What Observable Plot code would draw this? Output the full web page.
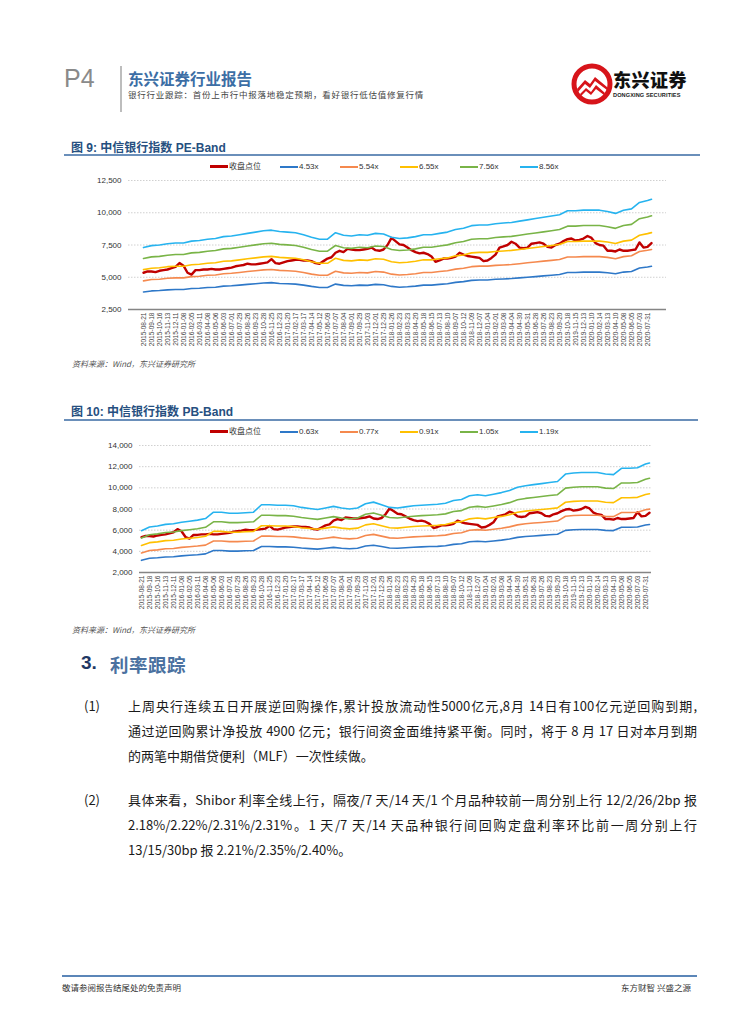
<!DOCTYPE html>
<html><head><meta charset="utf-8">
<script src="https://cdn.jsdelivr.net/npm/d3@7"></script>
<script src="https://cdn.jsdelivr.net/npm/@observablehq/plot@0.6"></script>
<style>
html,body{margin:0;padding:0;background:#fff}
body{width:755px;height:1024px;position:relative;overflow:hidden;font-family:"Noto Sans CJK SC","Noto Sans",sans-serif;color:#1a1a1a}
.a{position:absolute;white-space:nowrap}
.ctitle{font-size:12px;font-weight:bold;color:#264f80;font-family:"Liberation Sans","Noto Sans CJK SC",sans-serif}
.ctitle span{font-family:"Noto Sans CJK SC",sans-serif}
.rule{position:absolute;height:2px;background:#6a8fba}
.src{font-size:8px;font-style:italic;color:#555}
.leg{position:absolute;font-size:8px;color:#333;font-family:"Liberation Sans","Noto Sans CJK SC",sans-serif;height:10px;line-height:10px;white-space:nowrap}
.leg i{display:inline-block;width:18px;vertical-align:middle;margin-right:1px}
.para{position:absolute;left:128px;width:569px;font-size:13px;line-height:18px;color:#1a1a1a}
.para div{height:25px;text-align:justify;text-align-last:justify;white-space:nowrap}
.para div.last{text-align-last:left}
.num{position:absolute;left:84px;font-size:13px;line-height:18px}
</style></head><body>

<!-- header -->
<div class="a" style="left:64px;top:64px;font-size:25px;color:#8a8a8a;font-family:'Liberation Sans',sans-serif">P4</div>
<div class="a" style="left:120px;top:66px;width:2px;height:46px;background:#bdbdbd"></div>
<div class="a" style="left:128px;top:67px;font-size:15.5px;font-weight:bold;color:#3c6ea5">东兴证券行业报告</div>
<div class="a" style="left:128px;top:88px;font-size:8.5px;letter-spacing:0.75px;color:#444">银行行业跟踪：首份上市行中报落地稳定预期，看好银行低估值修复行情</div>
<svg class="a" style="left:571px;top:63px" width="42" height="42" viewBox="0 0 42 42">
  <circle cx="21" cy="21" r="18" fill="none" stroke="#d7141a" stroke-width="5"/>
  <path d="M6 26 L14 17 L19 21 L24 14 L36 24 L36 27 L24 18 L19 25 L14 21 L7 29 Z" fill="#d7141a"/>
  <path d="M9 31 L15 25 L20 29 L25 22 L34 30 L33 32 L25 26 L20 32 L15 28 L10 33 Z" fill="#d7141a"/>
</svg>
<div class="a" style="left:613px;top:66px;font-size:18px;font-weight:900;color:#111;letter-spacing:0.5px">东兴证券</div>
<div class="a" style="left:613px;top:92px;font-size:5.6px;font-weight:bold;color:#222;font-family:'Liberation Sans',sans-serif;letter-spacing:0.1px">DONGXING SECURITIES</div>

<!-- chart 1 -->
<div class="a ctitle" style="left:71px;top:138px"><span>图</span> 9: <span>中信银行指数</span> PE-Band</div>
<div class="rule" style="left:64px;top:154px;width:636px"></div>
<div id="leg1"></div>
<div id="chart1"></div>
<div class="a src" style="left:72px;top:358px">资料来源：Wind，东兴证券研究所</div>

<!-- chart 2 -->
<div class="a ctitle" style="left:71px;top:402px"><span>图</span> 10: <span>中信银行指数</span> PB-Band</div>
<div class="rule" style="left:64px;top:419px;width:634px"></div>
<div id="leg2"></div>
<div id="chart2"></div>
<div class="a src" style="left:72px;top:624px">资料来源：Wind，东兴证券研究所</div>

<!-- section -->
<div class="a" style="left:81px;top:652px;font-size:19px;font-weight:bold;color:#1f3864;font-family:'Liberation Sans',sans-serif">3.</div>
<div class="a" style="left:110px;top:651px;font-size:18.5px;font-weight:bold;color:#4a71a0;letter-spacing:0.5px">利率跟踪</div>

<div class="num" style="top:697px">(1)</div>
<div class="para" style="top:697px">
<div>上周央行连续五日开展逆回购操作,累计投放流动性5000亿元,8月 14日有100亿元逆回购到期,</div>
<div>通过逆回购累计净投放 4900 亿元；银行间资金面维持紧平衡。同时，将于 8 月 17 日对本月到期</div>
<div class="last">的两笔中期借贷便利（MLF）一次性续做。</div>
</div>
<div class="num" style="top:791px">(2)</div>
<div class="para" style="top:791px">
<div>具体来看，Shibor 利率全线上行，隔夜/7 天/14 天/1 个月品种较前一周分别上行 12/2/26/2bp 报</div>
<div>2.18%/2.22%/2.31%/2.31%。1 天/7 天/14 天品种银行间回购定盘利率环比前一周分别上行</div>
<div class="last">13/15/30bp 报 2.21%/2.35%/2.40%。</div>
</div>

<!-- footer -->
<div class="a" style="left:62px;top:975px;width:635px;height:2px;background:#5b86b8"></div>
<div class="a" style="left:62px;top:981px;font-size:8.5px;color:#333">敬请参阅报告结尾处的免责声明</div>
<div class="a" style="left:621px;top:981px;font-size:8.5px;color:#333">东方财智 兴盛之源</div>

<script>
// ---------- data ----------
const tickDates = ["2015-08-21","2015-09-18","2015-10-16","2015-11-13","2015-12-11",
"2016-01-08","2016-02-05","2016-03-11","2016-04-08","2016-05-06","2016-06-03","2016-07-01","2016-07-29","2016-08-26","2016-09-23","2016-10-28","2016-11-25","2016-12-23",
"2017-01-20","2017-02-17","2017-03-17","2017-04-14","2017-05-12","2017-06-09","2017-07-07","2017-08-04","2017-09-01","2017-09-29","2017-11-03","2017-12-01","2017-12-29",
"2018-01-26","2018-02-23","2018-03-23","2018-04-20","2018-05-18","2018-06-15","2018-07-13","2018-08-10","2018-09-07","2018-10-12","2018-11-09","2018-12-07",
"2019-01-04","2019-02-01","2019-03-08","2019-04-04","2019-04-30","2019-05-31","2019-06-28","2019-07-26","2019-08-23","2019-09-20","2019-10-18","2019-11-15","2019-12-13",
"2020-01-10","2020-02-14","2020-03-13","2020-04-10","2020-05-08","2020-06-05","2020-07-03","2020-07-31"];
const lastDate = "2020-08-14";

// close level of the index, every two weeks (tick date, then two weeks later)
const closeIndex = [5350,5450,5450,5400,5500,5550,5600,5700,5800,6100,
5900,5350,5200,5550,5550,5600,5600,5650,5600,5600,
5650,5700,5750,5850,5900,5950,6050,6000,6000,6050,
6100,6150,6400,6100,6050,6150,6250,6300,6350,6350,
6300,6300,6250,6100,6050,6250,6450,6550,6900,7050,
6950,7200,7150,7100,7100,7150,7200,7300,7100,7050,
7150,7500,8050,7800,7550,7500,7300,7100,6950,6850,
6900,6800,6600,6200,6300,6450,6450,6500,6600,6900,
6750,6650,6600,6550,6500,6250,6300,6500,6750,7300,
7400,7500,7750,7600,7300,7250,7300,7600,7650,7700,
7600,7350,7300,7500,7600,7800,7950,8000,7850,7900,
8000,8200,8050,7650,7500,7450,7050,7050,7000,7150,
7050,7050,7100,7150,7700,7300,7350,7650];

// PE bands (values at tick dates + last date)
const pe453 = [3860,3940,3970,4020,4050,4050,4130,4150,4210,4230,4310,4340,4390,4450,4500,4550,4580,4520,4500,4470,4390,4290,4210,4210,4470,4370,4340,4390,4370,4450,4420,4290,4230,4260,4310,4390,4390,4450,4500,4600,4660,4760,4790,4790,4840,4870,4900,4950,5000,5050,5110,5160,5210,5370,5370,5400,5400,5400,5350,5270,5400,5450,5720,5800,5850];
const pe554 = [4720,4820,4850,4920,4950,4950,5050,5080,5150,5180,5270,5310,5370,5440,5500,5570,5600,5530,5500,5470,5370,5240,5150,5150,5470,5340,5310,5370,5340,5440,5400,5240,5180,5210,5270,5370,5370,5440,5500,5630,5700,5820,5860,5860,5920,5950,5990,6050,6120,6180,6250,6310,6370,6570,6570,6600,6600,6600,6540,6440,6600,6670,6990,7090,7150];
const pe655 = [5590,5700,5740,5820,5850,5850,5970,6010,6080,6120,6240,6270,6350,6430,6500,6580,6620,6540,6500,6470,6350,6200,6080,6080,6470,6310,6270,6350,6310,6430,6390,6200,6120,6160,6240,6350,6350,6430,6500,6660,6730,6890,6930,6930,7000,7040,7080,7150,7230,7310,7380,7460,7540,7770,7770,7800,7800,7800,7730,7610,7800,7880,8260,8380,8460];
const pe756 = [6450,6580,6620,6710,6760,6760,6890,6930,7020,7070,7200,7240,7330,7420,7510,7600,7640,7550,7510,7460,7330,7150,7020,7020,7460,7290,7240,7330,7290,7420,7380,7150,7070,7110,7200,7330,7330,7420,7510,7680,7770,7950,7990,7990,8080,8130,8170,8260,8350,8430,8520,8610,8700,8960,8960,9010,9010,9010,8920,8790,9010,9100,9540,9670,9760];
const pe856 = [7300,7450,7500,7600,7650,7650,7800,7850,7950,8000,8150,8200,8300,8400,8500,8600,8650,8550,8500,8450,8300,8100,7950,7950,8450,8250,8200,8300,8250,8400,8350,8100,8000,8050,8150,8300,8300,8400,8500,8700,8800,9000,9050,9050,9150,9200,9250,9350,9450,9550,9650,9750,9850,10150,10150,10200,10200,10200,10100,9950,10200,10300,10800,10950,11050];

// PB bands
const pb063 = [3150,3340,3390,3470,3490,3570,3630,3680,3760,4080,4080,4020,4020,4050,4080,4450,4450,4420,4420,4390,4310,4260,4210,4290,4370,4290,4240,4290,4500,4580,4450,4310,4290,4340,4390,4420,4450,4470,4530,4660,4710,4900,4950,4900,4980,5060,5160,5320,5400,5450,5510,5560,5610,5980,6040,6060,6060,6060,5980,5960,6270,6270,6300,6490,6540];
const pb077 = [3850,4080,4140,4240,4270,4370,4430,4500,4590,4980,4980,4920,4920,4950,4980,5440,5440,5400,5400,5370,5270,5210,5140,5240,5340,5240,5180,5240,5500,5600,5440,5270,5240,5310,5370,5400,5440,5470,5530,5690,5760,5990,6050,5990,6080,6180,6310,6500,6600,6670,6730,6790,6860,7310,7380,7410,7410,7410,7310,7280,7670,7670,7700,7930,7990];
const pb091 = [4550,4820,4890,5010,5050,5160,5240,5310,5430,5890,5890,5810,5810,5850,5890,6420,6420,6390,6390,6350,6230,6160,6080,6190,6310,6190,6120,6190,6500,6610,6420,6230,6190,6270,6350,6390,6420,6460,6540,6730,6810,7070,7150,7070,7190,7300,7460,7690,7800,7880,7950,8030,8110,8640,8720,8760,8760,8760,8640,8600,9060,9060,9100,9370,9440];
const pb105 = [5250,5560,5650,5780,5820,5960,6040,6130,6270,6790,6790,6710,6710,6750,6790,7410,7410,7370,7370,7320,7190,7100,7020,7150,7280,7150,7060,7150,7500,7630,7410,7190,7150,7240,7320,7370,7410,7460,7540,7770,7850,8160,8250,8160,8290,8430,8600,8870,9000,9090,9180,9270,9350,9970,10060,10100,10100,10100,9970,9930,10460,10460,10500,10810,10900];
const pb119 = [5950,6300,6400,6550,6600,6750,6850,6950,7100,7700,7700,7600,7600,7650,7700,8400,8400,8350,8350,8300,8150,8050,7950,8100,8250,8100,8000,8100,8500,8650,8400,8150,8100,8200,8300,8350,8400,8450,8550,8800,8900,9250,9350,9250,9400,9550,9750,10050,10200,10300,10400,10500,10600,11300,11400,11450,11450,11450,11300,11250,11850,11850,11900,12250,12350];

const closeName = "收盘点位";
const peNames = ["4.53x","5.54x","6.55x","7.56x","8.56x"];
const pbNames = ["0.63x","0.77x","0.91x","1.05x","1.19x"];
const peTicks = [2500,5000,7500,10000,12500];
const pbTicks = [2000,4000,6000,8000,10000,12000,14000];
const closeColor = "#c00000";
const bandColors = ["#2e78c8","#f5894e","#ffc000","#79b447","#26b3ef"];

// ---------- build ----------
const fmt = d3.utcFormat("%Y-%m-%d");
const weekDomain = [];
tickDates.forEach((t) => {
  weekDomain.push(t);
  weekDomain.push(fmt(d3.utcDay.offset(new Date(t + "T00:00:00Z"), 14)));
});
const bandDates = [...tickDates, lastDate];
const closeRows = closeIndex.map((v, i) => ({date: weekDomain[i], value: v}));

function legend(id, top, names) {
  const el = document.getElementById(id);
  const lefts = [210, 280, 340, 400, 460, 520];
  const items = [{name: closeName, color: closeColor, w: 3}]
    .concat(names.map((n, i) => ({name: n, color: bandColors[i], w: 2})));
  items.forEach((it, i) => {
    const d = document.createElement("div");
    d.className = "leg";
    d.style.left = lefts[i] + "px";
    d.style.top = top + "px";
    d.innerHTML = `<i style="height:${it.w}px;background:${it.color}"></i>${it.name}`;
    el.appendChild(d);
  });
}

function bandChart({id, top, bands, ticks, marginLeft, marginRight, marginTop, marginBottom, height}) {
  const marks = [
    Plot.ruleY(ticks.slice(1), {stroke: "#c4c4c4", strokeDasharray: "1.5,1.5", strokeWidth: 0.8}),
    Plot.ruleY([ticks[0]], {stroke: "#858585", strokeWidth: 1.3}),
    Plot.axisY({ticks, tickSize: 0, tickPadding: 7, tickFormat: d3.format(","), fontSize: 8, fill: "#333"}),
    Plot.axisX({ticks: tickDates, tickRotate: -90, tickSize: 0, tickPadding: 3, fontSize: 6.6, fill: "#444"}),
    Plot.line(closeRows, {x: "date", y: "value", stroke: closeColor, strokeWidth: 2.4, curve: "linear"})
  ];
  bands.forEach((arr, k) => {
    const rows = arr.map((v, i) => ({date: bandDates[i], value: v}));
    marks.push(Plot.line(rows, {x: "date", y: "value", stroke: bandColors[k], strokeWidth: 1.6}));
  });
  const svg = Plot.plot({
    width: 755, height, marginLeft, marginRight, marginTop, marginBottom,
    style: {fontFamily: "'Liberation Sans', Arial, sans-serif", fontSize: "8px", background: "transparent", overflow: "visible"},
    x: {type: "point", domain: weekDomain, padding: 0, label: null},
    y: {domain: [ticks[0], ticks[ticks.length - 1]], label: null},
    marks
  });
  svg.style.position = "absolute";
  svg.style.left = "0px";
  svg.style.top = top + "px";
  document.getElementById(id).appendChild(svg);
}

legend("leg1", 162, peNames);
bandChart({id: "chart1", top: 170, bands: [pe453, pe554, pe655, pe756, pe856], ticks: peTicks,
  marginLeft: 128, marginRight: 89, marginTop: 10, marginBottom: 41, height: 180});

legend("leg2", 427, pbNames);
bandChart({id: "chart2", top: 438, bands: [pb063, pb077, pb091, pb105, pb119], ticks: pbTicks,
  marginLeft: 139, marginRight: 104, marginTop: 7, marginBottom: 40, height: 174});
</script>
</body></html>
